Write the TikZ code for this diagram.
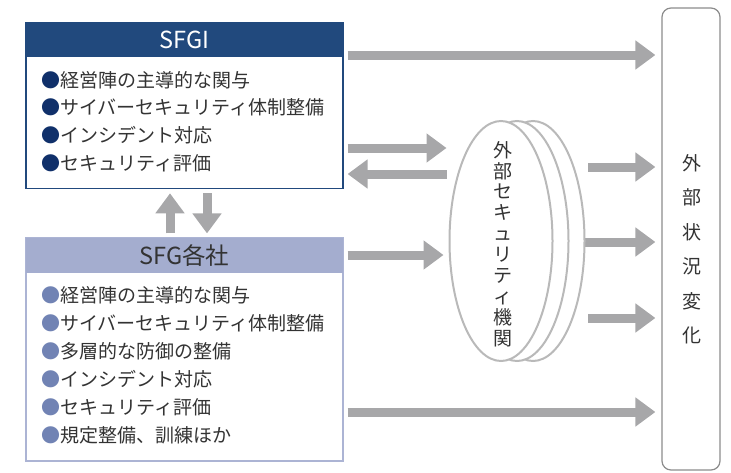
\documentclass[tikz,border=0pt]{standalone}
\usepackage{fontspec}
\setmainfont{Noto Sans CJK JP}
\usepackage{tikz}
\definecolor{navy}{RGB}{33,73,125}
\definecolor{lavender}{RGB}{164,173,207}
\definecolor{lavline}{RGB}{172,180,212}
\definecolor{dotnavy}{RGB}{16,48,106}
\definecolor{dotblue}{RGB}{113,131,180}
\definecolor{arrowgray}{RGB}{167,167,169}
\definecolor{ringgray}{RGB}{185,185,185}
\definecolor{boxgray}{RGB}{140,140,140}
\definecolor{textgray}{RGB}{51,51,51}
\usetikzlibrary{arrows.meta}
\usetikzlibrary{shapes.geometric}
\pgfdeclarelayer{edgelayer}
\pgfdeclarelayer{nodelayer}
\pgfsetlayers{edgelayer,nodelayer,main}
\tikzstyle{box}=[rectangle,fill=white,line width=1.2pt,minimum width=317pt,inner sep=0pt]
\tikzstyle{head}=[rectangle,minimum width=317pt,inner sep=0pt,font=\fontsize{23.5}{26}\selectfont]
\tikzstyle{list}=[anchor=west,align=left,inner sep=0pt,text=textgray,font=\fontsize{19}{27.7}\selectfont]
\tikzstyle{disc}=[ellipse,draw=ringgray,fill=white,line width=2pt,minimum width=103pt,minimum height=240pt,inner sep=0pt]
\tikzstyle{flow}=[-{Triangle[length=20pt,width=28pt]},line width=9pt,draw=arrowgray]
\newcommand\dotA{\textcolor{dotnavy}{●}}
\newcommand\dotB{\textcolor{dotblue}{●}}

\begin{document}
\begin{tikzpicture}[x=1pt,y=-1pt]
        \useasboundingbox (0,0) rectangle (731,472);
        \begin{pgfonlayer}{nodelayer}
            \node [style = box, draw=navy, minimum height=166pt] (sfgi) at (184.5, 105.7) {};
            \node [style = head, fill=navy, text=white, minimum height=34.6pt] (sfgihead) at (184.5, 40) {SFGI};
            \node [style = list] (sfgilist) at (41, 121.5) {\dotA 経営陣の主導的な関与\\
                \dotA サイバーセキュリティ体制整備\\
                \dotA インシデント対応\\
                \dotA セキュリティ評価};

            \node [style = box, draw=lavline, minimum height=223pt] (ent) at (184.5, 349.5) {};
            \node [style = head, fill=lavender, text=textgray, minimum height=35pt] (enthead) at (184.5, 255.5) {SFG各社};
            \node [style = list, font=\fontsize{19}{28}\selectfont] (entlist) at (41, 365) {\dotB 経営陣の主導的な関与\\
                \dotB サイバーセキュリティ体制整備\\
                \dotB 多層的な防御の整備\\
                \dotB インシデント対応\\
                \dotB セキュリティ評価\\
                \dotB 規定整備、訓練ほか};

            \node [style = disc] (back) at (533, 241) {};
            \node [style = disc] (middle) at (517, 241) {};
            \node [style = disc] (front) at (501, 241) {};
            \node [align=center, inner sep=0pt, text=textgray, font=\fontsize{19}{20.9}\selectfont] (fronttext) at (503, 244)
                {外\\部\\セ\\キ\\ュ\\リ\\テ\\ィ\\機\\関};

            \node [rectangle, rounded corners=9pt, draw=boxgray, fill=white, line width=1.2pt, minimum width=58pt, minimum height=462pt] (change) at (691, 239) {};
            \node [align=center, inner sep=0pt, text=textgray, font=\fontsize{19}{34.5}\selectfont] (changetext) at (692, 249)
                {外\\部\\状\\況\\変\\化};
        \end{pgfonlayer}

        \begin{pgfonlayer}{edgelayer}
            \draw [style = flow, shorten <=4pt, shorten >=6pt] (sfgi.east |- 0,55) to (change.west |- 0,55);
            \draw [style = flow, shorten <=4pt, shorten >=2pt] (sfgi.east |- 0,148) to (front.west |- 0,148);
            \draw [style = flow, shorten <=2pt, shorten >=4pt] (front.west |- 0,174) to (sfgi.east |- 0,174);
            \draw [style = flow, shorten <=4pt, shorten >=5pt] (ent.east |- 0,255) to (front.west |- 0,255);
            \draw [style = flow, shorten <=4pt, shorten >=6pt] (ent.east |- 0,412) to (change.west |- 0,412);

            \draw [style = flow, shorten <=2.5pt, shorten >=6pt] (back.east |- 0,167) to (change.west |- 0,167);
            \draw [style = flow, shorten <=-8.5pt, shorten >=6pt] (back.east |- 0,242) to (change.west |- 0,242);
            \draw [style = flow, shorten <=2.5pt, shorten >=6pt] (back.east |- 0,318) to (change.west |- 0,318);

            \draw [style = flow, shorten <=4pt, shorten >=4pt] (ent.north -| 170,0) to (sfgi.south -| 170,0);
            \draw [style = flow, shorten <=4pt, shorten >=4pt] (sfgi.south -| 207,0) to (ent.north -| 207,0);
        \end{pgfonlayer}
    \end{tikzpicture}
\end{document}
